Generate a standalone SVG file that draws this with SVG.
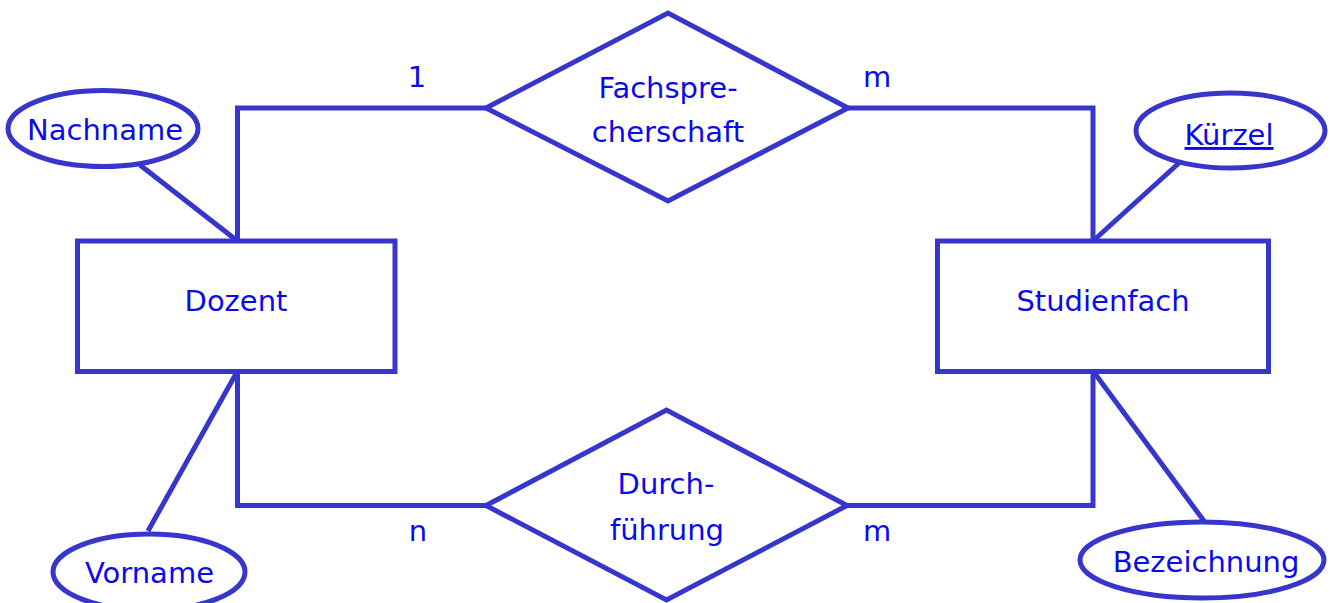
<svg xmlns="http://www.w3.org/2000/svg" width="1330" height="603" viewBox="0 0 1330 603">
<style>
.s{fill:#ffffff;stroke:#3636CC;stroke-width:5}
.c{fill:none;stroke:#3636CC;stroke-width:5}
text{font-family:"DejaVu Sans","Liberation Sans",sans-serif;font-size:29px;fill:#0A0AEE;text-anchor:middle}
</style>
<rect width="1330" height="603" fill="#ffffff"/>
<g id="connectors">
<polyline class="c" points="237.5,241 237.5,108 486,108"/>
<polyline class="c" points="848,108 1093,108 1093,241"/>
<polyline class="c" points="237.5,371 237.5,505.5 486,505.5"/>
<polyline class="c" points="847,505.5 1093,505.5 1093,371"/>
<line class="c" x1="140" y1="165" x2="237.5" y2="241"/>
<line class="c" x1="148" y1="531" x2="237.5" y2="371"/>
<line class="c" x1="1179" y1="163" x2="1093" y2="241"/>
<line class="c" x1="1204" y1="521" x2="1093" y2="371"/>
<text x="417" y="87">1</text>
<text x="877" y="87">m</text>
<text x="418" y="541">n</text>
<text x="877" y="541">m</text>
</g>
<g id="dozent">
<rect class="s" x="77.5" y="241" width="317.5" height="130.5"/>
<text x="236" y="311">Dozent</text>
</g>
<g id="studienfach">
<rect class="s" x="937.5" y="241" width="331" height="130.5"/>
<text x="1103" y="311">Studienfach</text>
</g>
<g id="fachsprecherschaft">
<polygon class="s" points="486,108 668,13 848,108 668,201"/>
<text x="668" y="98">Fachspre-</text>
<text x="668" y="142">cherschaft</text>
</g>
<g id="durchfuehrung">
<polygon class="s" points="486,505.5 666.5,410 847,505.5 666.5,600"/>
<text x="666" y="494">Durch-</text>
<text x="667" y="540">führung</text>
</g>
<g id="nachname">
<ellipse class="s" cx="103" cy="128.5" rx="95" ry="38"/>
<text x="105" y="140">Nachname</text>
</g>
<g id="vorname">
<ellipse class="s" cx="149" cy="572" rx="96" ry="38"/>
<text x="149.5" y="583">Vorname</text>
</g>
<g id="kuerzel">
<ellipse class="s" cx="1230.5" cy="130.5" rx="94.5" ry="37.5"/>
<text x="1229" y="145" text-decoration="underline">Kürzel</text>
</g>
<g id="bezeichnung">
<ellipse class="s" cx="1202" cy="560" rx="122" ry="38"/>
<text x="1206" y="572">Bezeichnung</text>
</g>
</svg>
